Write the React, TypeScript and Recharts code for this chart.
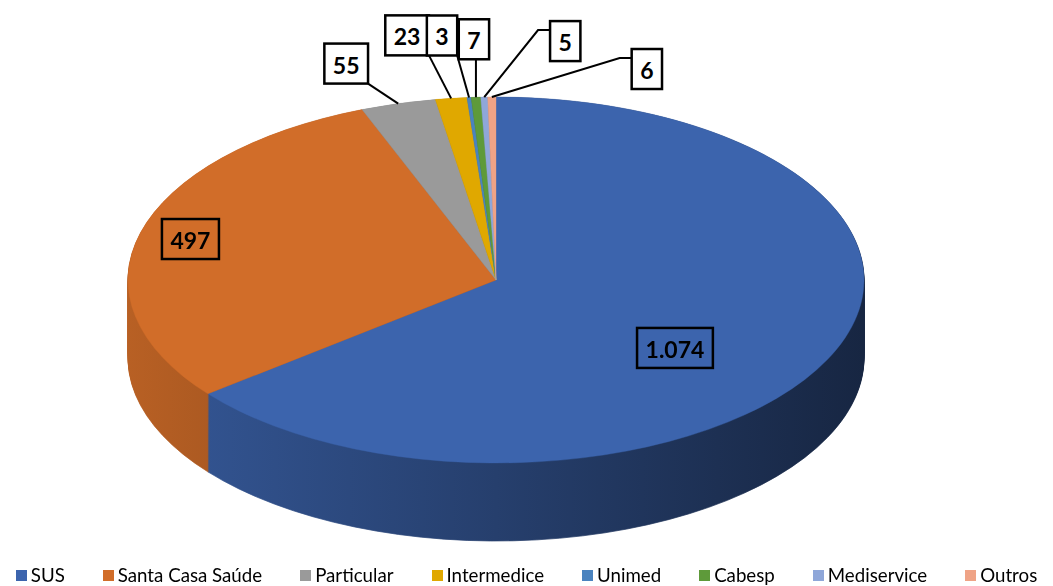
import React from 'react';
import { PieChart, Pie, Cell } from 'recharts';

const categories = ['SUS', 'Santa Casa Saúde', 'Particular', 'Intermedice', 'Unimed', 'Cabesp', 'Mediservice', 'Outros'];
const values = [1074, 497, 55, 23, 3, 7, 5, 6];
const valueLabels = ['1.074', '497', '55', '23', '3', '7', '5', '6'];
const topColors = ['#3C64AD', '#D16D29', '#9A9A9A', '#E0A800', '#4A83BF', '#5E9A3A', '#8FA7D9', '#EFA386'];

// label layout: fraction of the radius for the anchor, then a nudge in screen px
const labelRadius = [0.54, 0.86, 1, 1, 1, 1, 1, 1];
const labelNudge = [[0, 25], [0, 0], [-52, -40], [-44, -63], [-27, -62], [-2, -58], [81, -56], [155, -28]];

const W = 1053;
const H = 586;
const RX = 368;
const RY = 183;
const K = RY / RX;
const CX = 496;
const CY = 280 / K;
const DEPTH = 78 / K;
const STEP = 2;
const CH = 566 / K;
const RAD = Math.PI / 180;

const rows = categories.map((name, i) => ({ name, value: values[i], label: valueLabels[i] }));

const shade = (hex: string, m: number) => {
  const n = parseInt(hex.slice(1), 16);
  const r = Math.round(((n >> 16) & 255) * m);
  const g = Math.round(((n >> 8) & 255) * m);
  const b = Math.round((n & 255) * m);
  return `rgb(${r},${g},${b})`;
};

let ctx: CanvasRenderingContext2D | null = null;
const measure = (s: string) => {
  if (!ctx) ctx = document.createElement('canvas').getContext('2d');
  if (ctx) {
    ctx.font = 'bold 23px Lato';
    return ctx.measureText(s).width;
  }
  return s.length * 12;
};

const renderLabel = (props: any) => {
  const { cx, cy, midAngle, outerRadius, index } = props;
  const r = outerRadius * labelRadius[index];
  const ax = cx + r * Math.cos(-midAngle * RAD);
  const ay = (cy + r * Math.sin(-midAngle * RAD)) * K;
  const [nx, ny] = labelNudge[index];
  const bx = ax + nx;
  const by = ay + ny;
  const text = valueLabels[index];
  const w = measure(text) + 17;
  const h = 40;
  const left = bx - w / 2;
  const top = by - h / 2;
  const outside = labelRadius[index] >= 1;
  let pts = '';
  if (outside) {
    if (left > ax + 20) {
      pts = `${ax},${ay} ${left - 12},${top + 9} ${left},${top + 9}`;
    } else {
      const px = Math.min(Math.max(ax, left), left + w);
      const py = Math.min(Math.max(ay, top), top + h);
      pts = `${ax},${ay} ${px},${py}`;
    }
  }
  return (
    <g key={`lbl-${index}`} transform={`scale(1, ${1 / K})`}>
      {outside && <polyline points={pts} fill="none" stroke="#000" strokeWidth={2} />}
      <rect x={left} y={top} width={w} height={h} fill={outside ? '#fff' : 'none'} stroke="#000" strokeWidth={2.5} />
      <text x={bx} y={by + 1} textAnchor="middle" dominantBaseline="central"
        fontFamily="Lato" fontWeight={700} fontSize={23} fill="#000">{text}</text>
    </g>
  );
};

const sideLayers: number[] = [];
for (let d = DEPTH; d > 0; d -= STEP) sideLayers.push(d);

export default function App() {
  return (
    <div style={{ position: 'fixed', left: 0, top: 0, width: W, height: H, background: '#fff', overflow: 'hidden' }}>
      <div style={{ position: 'absolute', left: 0, top: 0, width: W, height: CH, transform: `scaleY(${K})`, transformOrigin: '0 0' }}>
        <PieChart width={W} height={CH} margin={{ top: 0, right: 0, bottom: 0, left: 0 }}>
          <defs>
            {topColors.map((c, i) => (
              <linearGradient key={i} id={`side${i}`} gradientUnits="userSpaceOnUse" x1={CX - RX} y1={0} x2={CX + RX} y2={0}>
                <stop offset="0%" stopColor={shade(c, 0.88)} />
                <stop offset="100%" stopColor={shade(c, 0.38)} />
              </linearGradient>
            ))}
          </defs>
          {sideLayers.map((d) => (
            <Pie key={`side-${d}`} data={rows} dataKey="value" nameKey="name"
              cx={CX} cy={CY + d} outerRadius={RX} startAngle={90} endAngle={-270}
              isAnimationActive={false} labelLine={false}>
              {rows.map((_, i) => (
                <Cell key={i} fill={`url(#side${i})`} stroke={`url(#side${i})`} strokeWidth={1} />
              ))}
            </Pie>
          ))}
          <Pie data={rows} dataKey="value" nameKey="name"
            cx={CX} cy={CY} outerRadius={RX} startAngle={90} endAngle={-270}
            isAnimationActive={false} labelLine={false} label={renderLabel}>
            {rows.map((_, i) => (
              <Cell key={i} fill={topColors[i]} stroke={topColors[i]} strokeWidth={0.5} />
            ))}
          </Pie>
        </PieChart>
      </div>
      <div style={{ position: 'absolute', left: 0, top: 564, width: W, display: 'flex', justifyContent: 'center',
        fontFamily: 'Lato', fontSize: 18.7, color: '#000', gap: 38, lineHeight: '22px' }}>
        {categories.map((c, i) => (
          <div key={c} style={{ display: 'flex', alignItems: 'center' }}>
            <span style={{ display: 'inline-block', width: 11, height: 11, background: topColors[i], marginRight: 4 }} />
            <span>{c}</span>
          </div>
        ))}
      </div>
    </div>
  );
}
